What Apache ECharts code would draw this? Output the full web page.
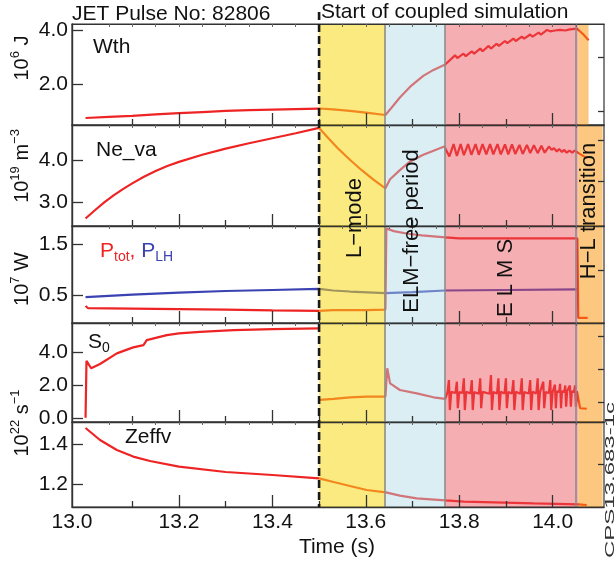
<!DOCTYPE html>
<html><head><meta charset="utf-8">
<script src="https://cdn.jsdelivr.net/npm/echarts@6/dist/echarts.min.js"></script>
<style>html,body{margin:0;padding:0;background:#fff}#c{width:616px;height:565px}</style>
</head><body><div id="c"></div>
<script>
// ---------------- data ----------------
const wth = [
[13.0,0.74],[13.05,0.78],[13.1,0.82],[13.15,0.87],[13.2,0.92],[13.25,0.96],[13.3,1.0],[13.35,1.03],[13.4,1.05],[13.45,1.07],[13.5,1.09],
[13.53,1.06],[13.566,1.0],[13.6,0.94],[13.642,0.85],
[13.655,1.12],[13.673,1.5],[13.695,1.9],[13.723,2.3],[13.745,2.52],[13.77,2.72],
[13.791,3.06],[13.796,2.96],[13.809,3.12],[13.814,3.03],[13.827,3.21],[13.832,3.12],[13.845,3.31],[13.85,3.21],[13.863,3.41],[13.868,3.31],[13.88,3.49],[13.885,3.41],[13.898,3.59],[13.903,3.51],[13.916,3.68],[13.921,3.59],[13.934,3.75],[13.939,3.68],[13.952,3.83],[13.957,3.75],[13.97,3.9],[13.975,3.83],[13.988,4.0],[13.995,3.95],[14.005,3.98],[14.016,4.0],[14.027,3.98],[14.037,4.02],[14.052,4.05],
[14.065,3.85],[14.077,3.62]
];
const ne = [
[13.0,2.6],[13.02,2.8],[13.04,2.99],[13.06,3.16],[13.08,3.31],[13.1,3.45],[13.125,3.61],[13.15,3.75],[13.175,3.87],[13.2,3.97],[13.25,4.14],[13.3,4.29],[13.35,4.42],[13.4,4.54],[13.45,4.66],[13.5,4.79],
[13.52,4.54],[13.54,4.30],[13.566,4.02],[13.59,3.78],[13.615,3.55],[13.642,3.33],
[13.652,3.55],[13.673,3.77],[13.695,3.98],[13.723,4.14],[13.745,4.24],[13.768,4.34],
[13.779,4.10],[13.788,4.40],[13.795,4.11],[13.803,4.40],[13.81,4.13],[13.819,4.40],[13.826,4.14],[13.835,4.40],[13.842,4.14],[13.85,4.40],[13.858,4.15],[13.866,4.40],[13.873,4.15],[13.882,4.40],[13.889,4.15],[13.898,4.39],[13.905,4.15],[13.913,4.39],[13.92,4.16],[13.929,4.38],[13.936,4.16],[13.945,4.38],[13.952,4.18],[13.96,4.37],[13.968,4.18],[13.976,4.36],[13.983,4.19],[13.992,4.34],[13.998,4.26],[14.003,4.30],[14.009,4.22],[14.014,4.28],[14.02,4.21],[14.025,4.26],[14.03,4.19],[14.036,4.24],[14.042,4.19],[14.047,4.24],[14.053,4.20],
[14.073,4.06]
];
const ptot = [[13.0,0.30],[13.005,0.26],[13.05,0.255],[13.1,0.25],[13.2,0.24],[13.3,0.23],[13.4,0.215],[13.5,0.205],[13.53,0.22],[13.6,0.22],[13.642,0.23],[13.644,1.80],[13.66,1.75],[13.69,1.70],[13.72,1.67],[13.77,1.63],[13.8,1.61],[13.9,1.61],[14.0,1.61],[14.053,1.61],[14.055,0.07],[14.075,0.07]];
const plh = [[13.0,0.47],[13.1,0.52],[13.2,0.56],[13.3,0.59],[13.4,0.61],[13.5,0.63],[13.53,0.60],[13.566,0.58],[13.642,0.55],[13.7,0.57],[13.77,0.60],[13.9,0.61],[14.055,0.62]];
const s0Pre = [[13.0,0.05],[13.002,3.49],[13.012,3.04],[13.031,3.30],[13.067,3.94],[13.102,4.30],[13.124,4.44],[13.131,4.74],[13.174,5.04],[13.2,5.14],[13.245,5.24],[13.317,5.34],[13.4,5.40],[13.499,5.45]];
const s0Post = [
[13.501,1.13],[13.531,1.19],[13.566,1.29],[13.602,1.33],[13.642,1.33],[13.646,3.04],[13.652,2.13],[13.673,1.73],[13.709,1.53],[13.745,1.29],[13.77,1.19],
[13.775,1.60],[13.778,2.33],[13.780,0.52],[13.783,1.62],
[13.792,1.55],[13.795,2.23],[13.797,0.63],[13.800,1.60],
[13.807,1.55],[13.810,2.43],[13.812,0.52],[13.815,1.62],
[13.824,1.52],[13.827,2.33],[13.829,0.52],[13.832,1.60],
[13.842,1.50],[13.845,2.43],[13.847,0.63],[13.850,1.62],
[13.865,1.50],[13.868,2.63],[13.870,0.52],[13.873,1.60],
[13.881,1.52],[13.884,2.43],[13.886,0.52],[13.889,1.62],
[13.897,1.52],[13.900,2.43],[13.902,0.63],[13.905,1.60],
[13.913,1.52],[13.916,2.33],[13.918,0.52],[13.921,1.62],
[13.931,1.50],[13.934,2.43],[13.936,0.52],[13.939,1.60],
[13.949,1.52],[13.952,2.33],[13.954,0.52],[13.957,1.62],
[13.965,1.52],[13.968,2.43],[13.970,0.52],[13.973,1.60],
[13.977,1.55],[13.980,2.23],[13.982,0.63],[13.985,1.60],
[13.992,1.55],[13.995,2.33],[13.997,0.52],[14.000,1.62],
[14.003,1.60],[14.005,2.05],[14.007,0.63],[14.009,1.65],
[14.014,1.62],[14.016,2.10],[14.018,0.63],[14.020,1.65],
[14.025,1.62],[14.027,2.00],[14.029,0.73],[14.031,1.65],
[14.035,1.62],[14.037,2.00],[14.039,0.73],[14.041,1.65],
[14.046,1.62],[14.048,2.00],[14.050,0.73],[14.052,1.65],
[14.056,1.65],[14.059,0.63],[14.073,0.60]
];
const zeff = [[13.0,1.48],[13.031,1.42],[13.067,1.37],[13.102,1.337],[13.138,1.315],[13.2,1.287],[13.3,1.26],[13.4,1.245],[13.5,1.228],[13.531,1.21],[13.566,1.19],[13.602,1.17],[13.643,1.158],[13.673,1.142],[13.709,1.128],[13.77,1.118],[13.81,1.112],[13.896,1.107],[13.96,1.103],[14.055,1.098],[14.073,1.095]];

// phase boundaries (time, s)
const phaseStart = 13.5;
const phaseBounds = [13.5, 13.643, 13.77, 14.055, 14.107];
const phaseEndTopPanel = 14.077;

// axis ticks / labels
const xMin = 12.971, xMax = 14.110;
const xMajorTicks = [13.2,13.4,13.6,13.8,14.0];
const xMinorTicks = [13.1,13.3,13.5,13.7,13.9];
const xTopTicks = [13.05,13.1,13.15,13.2,13.25,13.3,13.35,13.4,13.45,13.5,13.55,13.6,13.65,13.7,13.75,13.8,13.85,13.9,13.95,14.0,14.05];
const xLabelValues = [12.971,13.2,13.4,13.6,13.8,14.0];
const xTickLabels = ['13.0','13.2','13.4','13.6','13.8','14.0'];

const yRanges = [[0.48,4.22],[2.42,4.86],[-0.03,1.85],[-0.2,5.77],[1.085,1.51]];
const yMajorTicks = [[2.0,4.0],[3.0,4.0],[0.5,1.5],[0.0,2.0,4.0],[1.2,1.4]];
const yMinorTicks = [[1.0,3.0],[3.5,4.5],[1.0],[1.0,3.0,5.0],[1.3]];

// ---------------- layout ----------------
const FONT = 'Liberation Sans, Arial, Helvetica, sans-serif';
const RED = '#ee2424', BLUE = '#3b42b2', AX = '#333';
const panels = [{top:24,height:101},{top:125,height:101},{top:226,height:97},{top:323,height:99},{top:422,height:85}];
const regionColors = ['rgba(245,216,24,0.55)','rgba(173,218,229,0.45)','rgba(233,75,84,0.45)','rgba(249,145,1,0.5)'];

const grid=[], xAxis=[], yAxis=[], series=[];
panels.forEach((p,i)=>{
  grid.push({left:72,width:532,top:p.top,height:p.height,show:true,borderColor:AX,borderWidth:1.2,backgroundColor:'transparent'});
  const tickStyle = {color:AX,width:1.3};
  xAxis.push({gridIndex:i,type:'value',min:xMin,max:xMax,position:'bottom',z:10,
    axisLine:{show:true,onZero:false,lineStyle:{color:AX,width:1.4}},
    axisTick:{show:true,inside:true,length:12,customValues:xMajorTicks,lineStyle:tickStyle},
    axisLabel:{show:i===4,customValues:xLabelValues,margin:5,fontSize:21,fontFamily:FONT,color:'#111',
      formatter:(v)=>xTickLabels[xLabelValues.findIndex(a=>Math.abs(a-v)<1e-6)] || v.toFixed(1)},
    splitLine:{show:false}});
  xAxis.push({gridIndex:i,type:'value',min:xMin,max:xMax,position:'bottom',z:10,
    axisLine:{show:false,onZero:false},axisTick:{show:true,inside:true,length:6,customValues:xMinorTicks,lineStyle:tickStyle},
    axisLabel:{show:false},splitLine:{show:false}});
  xAxis.push({gridIndex:i,type:'value',min:xMin,max:xMax,position:'top',z:10,
    axisLine:{show:true,onZero:false,lineStyle:{color:AX,width:1.2}},axisTick:{show:true,inside:true,length:3,customValues:xTopTicks,lineStyle:{color:'#666',width:1}},
    axisLabel:{show:false},splitLine:{show:false}});
  yAxis.push({gridIndex:i,type:'value',min:yRanges[i][0],max:yRanges[i][1],z:10,
    axisLine:{show:true,onZero:false,lineStyle:{color:AX,width:1.4}},
    axisTick:{show:true,inside:true,length:11,customValues:yMajorTicks[i],lineStyle:tickStyle},
    axisLabel:{customValues:yMajorTicks[i],formatter:(v)=>v.toFixed(1),margin:4,fontSize:21,fontFamily:FONT,color:'#111'},
    splitLine:{show:false}});
  yAxis.push({gridIndex:i,type:'value',min:yRanges[i][0],max:yRanges[i][1],z:10,
    axisLine:{show:false,onZero:false},axisTick:{show:true,inside:true,length:6,customValues:yMinorTicks[i],lineStyle:tickStyle},
    axisLabel:{show:false},splitLine:{show:false}});
});
function line(i,data,color){
  return {type:'line',xAxisIndex:3*i,yAxisIndex:2*i,data,symbol:'none',smooth:false,z:2,
    lineStyle:{color,width:2.2},silent:true,animation:false};
}
series.push(line(0,wth,RED));
series.push(line(1,ne,RED));
series.push(line(2,plh,BLUE));
series.push(line(2,ptot,RED));
series.push(line(3,s0Pre,RED));
series.push(line(3,s0Post,RED));
series.push(line(4,zeff,RED));
panels.forEach((p,i)=>{
  const areas=[];
  for(let k=0;k<4;k++){
    const end = (i===0 && k===3) ? phaseEndTopPanel : phaseBounds[k+1];
    areas.push([{xAxis:phaseBounds[k],itemStyle:{color:regionColors[k]}},{xAxis:end}]);
  }
  series.push({type:'line',xAxisIndex:3*i,yAxisIndex:2*i,data:[],silent:true,animation:false,
    markArea:{z:3,silent:true,data:areas,label:{show:false}},
    markLine:{z:4,silent:true,symbol:'none',label:{show:false},animation:false,
      lineStyle:{color:'#8c8c8c',width:1.6,type:'solid'},
      data:phaseBounds.slice(1,4).map(v=>({xAxis:v}))}
  });
});

const chart = echarts.init(document.getElementById('c'),null,{renderer:'canvas'});
chart.setOption({animation:false,grid,xAxis,yAxis,series});

const px = chart.convertToPixel({xAxisIndex:0}, phaseStart);
function vtext(x,y,text,size,extra){
  return Object.assign({type:'text',x,y,rotation:Math.PI/2,z:60,
    style:{text,fontSize:size,fontFamily:FONT,fill:'#111',align:'center',verticalAlign:'middle'}},extra||{});
}
function htext(x,y,text,size){
  return {type:'text',x,y,z:60,style:{text,fontSize:size,fontFamily:FONT,fill:'#111',align:'left',verticalAlign:'middle'}};
}
const unitRich = {n:{fontSize:20,lineHeight:26,fontFamily:FONT,fill:'#111'},s:{fontSize:13,lineHeight:13,verticalAlign:'top',fontFamily:FONT,fill:'#111'}};
function unit(x,y,text){
  return {type:'text',x,y,rotation:Math.PI/2,z:60,style:{text,rich:unitRich,align:'center',verticalAlign:'middle'}};
}
const graphic = [
  {type:'line',z:50,shape:{x1:px,y1:12,x2:px,y2:507},style:{stroke:'#1a1a1a',lineWidth:2.6,lineDash:[8,4]}},
  htext(72,14,'JET Pulse No: 82806',21),
  htext(321,12,'Start of coupled simulation',21),
  {type:'text',x:337,y:547,z:60,style:{text:'Time (s)',fontSize:21,fontFamily:FONT,fill:'#111',align:'center',verticalAlign:'middle'}},
  htext(93,47,'Wth',21),
  htext(96,150,'Ne_va',21),
  {type:'text',x:100,y:251,z:60,style:{text:'{p|P}{ps|tot}{p|, }{b|P}{bs|LH}',align:'left',verticalAlign:'middle',rich:{
    p:{fontSize:21,lineHeight:26,fill:RED,fontFamily:FONT},ps:{fontSize:14,lineHeight:14,verticalAlign:'bottom',fill:RED,fontFamily:FONT},
    b:{fontSize:21,lineHeight:26,fill:BLUE,fontFamily:FONT},bs:{fontSize:14,lineHeight:14,verticalAlign:'bottom',fill:BLUE,fontFamily:FONT}}}},
  {type:'text',x:88,y:342,z:60,style:{text:'{a|S}{b|0}',align:'left',verticalAlign:'middle',rich:{
    a:{fontSize:21,lineHeight:26,fill:'#111',fontFamily:FONT},b:{fontSize:14,lineHeight:14,verticalAlign:'bottom',fill:'#111',fontFamily:FONT}}}},
  htext(125,437,'Zeffv',21),
  unit(22,58,'{n|10}{s|6}{n| J}'),
  unit(22,166,'{n|10}{s|19}{n| m}{s|−3}'),
  unit(22,279,'{n|10}{s|7}{n| W}'),
  unit(22,423,'{n|10}{s|22}{n| s}{s|−1}'),
  vtext(355,218,'L−mode',22),
  vtext(412,231,'ELM−free period',22),
  vtext(506,278,'E L M S',22),
  vtext(589,211,'H−L transition',22),
  {type:'text',x:611,y:480,rotation:Math.PI/2,scaleX:2.0,z:60,style:{text:'CPS13.683-1c',fontSize:12,fontFamily:FONT,fill:'#333',align:'center',verticalAlign:'middle'}}
];
chart.setOption({graphic:{elements:graphic}});
</script>
</body></html>
